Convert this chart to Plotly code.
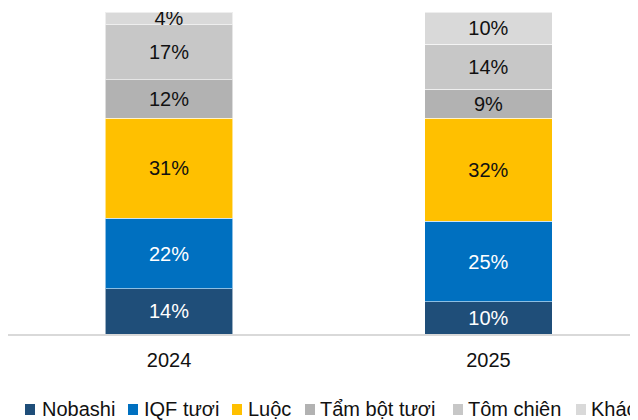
import plotly.graph_objects as go

years = ["2024", "2025"]
segments = ["Nobashi", "IQF tươi", "Luộc", "Tẩm bột tươi", "Tôm chiên", "Khác"]
nobashi = [14, 10]
iqf_tuoi = [22, 25]
luoc = [31, 32]
tam_bot_tuoi = [12, 9]
tom_chien = [17, 14]
khac = [4, 10]

values = [nobashi, iqf_tuoi, luoc, tam_bot_tuoi, tom_chien, khac]
colors = ["#1F4E79", "#0070C0", "#FFC000", "#B2B2B2", "#C7C7C7", "#D9D9D9"]
text_colors = ["white", "white", "#111111", "#111111", "#111111", "#111111"]

# page body has an 8px margin, so the figure is sized to fill the rest of the window
OFF = 8
W, H = 630, 412
L, R, T, B = 0, 0, 4, 86
FONT = "Liberation Sans, Arial, sans-serif"


def px_x(px):
    # px given in window coordinates
    return (px - OFF - L) / (W - L - R)


def px_y(py):
    return (H - B - (py - OFF)) / (H - T - B)


fig = go.Figure()
for name, vals, col, tcol in zip(segments, values, colors, text_colors):
    fig.add_trace(go.Bar(
        x=years, y=vals, name=name,
        marker=dict(color=col, line=dict(color="rgba(255,255,255,0.55)", width=1)),
        text=[f"{v}%" for v in vals], textposition="inside",
        insidetextanchor="middle", textangle=0,
        textfont=dict(color=tcol, size=20, family=FONT),
        hovertemplate=f"<b>%{{x}}</b><br>{name}: %{{y}}%<extra></extra>",
    ))

# legend drawn by hand so the compact spacing matches (marker + label per entry)
legend_marker_px = [25, 128, 232, 305, 453, 576]
legend_text_px = [40, 142, 246, 318, 466, 589]
for name, col, mx, tx in zip(segments, colors, legend_marker_px, legend_text_px):
    fig.add_shape(type="rect", xref="paper", yref="paper",
                  x0=px_x(mx), x1=px_x(mx + 10), y0=px_y(415), y1=px_y(404),
                  fillcolor=col, line=dict(width=0))
    fig.add_annotation(x=px_x(tx), y=px_y(409), xref="paper", yref="paper",
                       xanchor="left", yanchor="middle", showarrow=False,
                       text=name, font=dict(size=20, color="#111111", family=FONT))

fig.update_layout(
    width=W, height=H,
    barmode="stack", bargap=0.6,
    paper_bgcolor="white", plot_bgcolor="white",
    font=dict(family=FONT, size=20, color="#111111"),
    margin=dict(l=L, r=R, t=T, b=B),
    uniformtext=dict(mode="show", minsize=20),
    showlegend=False,
    xaxis=dict(range=[-0.504, 1.468], showline=True, linecolor="#D9D9D9", linewidth=2,
               ticks="", ticklabelstandoff=7, tickfont=dict(size=20), showgrid=False),
    yaxis=dict(range=[0, 100], visible=False, showgrid=False),
)

fig.write_html("out.html")
